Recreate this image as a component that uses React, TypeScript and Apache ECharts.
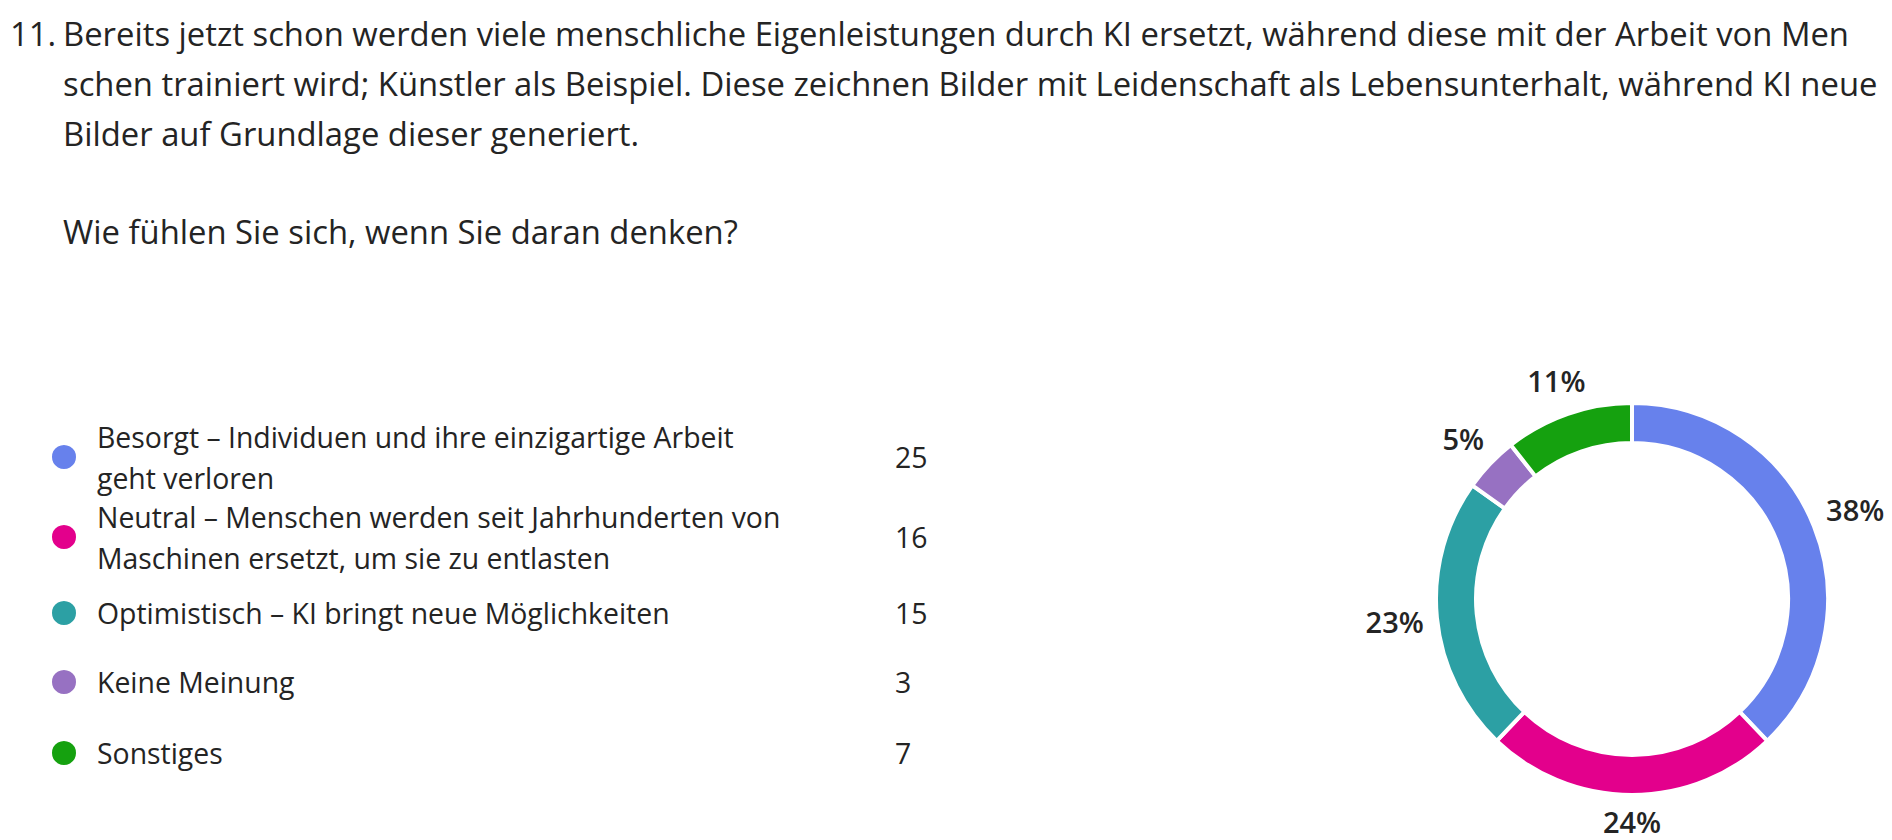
import React, { useEffect, useRef } from "react";
import * as echarts from "echarts";

// ---- data ----
const questionNumber = "11.";
const questionLines = [
  "Bereits jetzt schon werden viele menschliche Eigenleistungen durch KI ersetzt, während diese mit der Arbeit von Men",
  "schen trainiert wird; Künstler als Beispiel. Diese zeichnen Bilder mit Leidenschaft als Lebensunterhalt, während KI neue",
  "Bilder auf Grundlage dieser generiert.",
];
const questionPrompt = "Wie fühlen Sie sich, wenn Sie daran denken?";

const categories = [
  "Besorgt – Individuen und ihre einzigartige Arbeit\ngeht verloren",
  "Neutral – Menschen werden seit Jahrhunderten von\nMaschinen ersetzt, um sie zu entlasten",
  "Optimistisch – KI bringt neue Möglichkeiten",
  "Keine Meinung",
  "Sonstiges",
];
const counts = [25, 16, 15, 3, 7];
const colors = ["#6781EC", "#E3008C", "#2CA0A4", "#9771C2", "#15A10F"];

// ---- layout ----
const FONT = "'Segoe UI', 'Open Sans', sans-serif";
const TEXT = "#242424";
const rowCenters = [457, 537, 613, 682, 753];
const LINE_H = 41;
const PIE_CX = 1632;
const PIE_CY = 599;
const LABEL_GAP_R = 208;

export default function App() {
  const ref = useRef<HTMLDivElement>(null);

  useEffect(() => {
    if (!ref.current) return;
    const chart = echarts.init(ref.current, undefined, { renderer: "svg" });
    const data = categories.map((name, i) => ({
      name,
      value: counts[i],
      itemStyle: { color: colors[i] },
    }));

    const legends = categories.map((name, i) => {
      const lines = name.split("\n").length;
      return {
        data: [name],
        orient: "vertical",
        left: 50,
        top: rowCenters[i] - (lines * LINE_H) / 2,
        padding: 0,
        icon: "circle",
        itemWidth: 26,
        itemHeight: 26,
        itemGap: 0,
        selectedMode: false,
        textStyle: {
          fontFamily: FONT,
          fontSize: 28.4,
          lineHeight: LINE_H,
          color: TEXT,
          padding: [0, 0, 0, 15],
        },
      };
    });

    const countTexts = counts.map((c, i) => ({
      type: "text",
      left: 895,
      top: rowCenters[i] - 20,
      style: {
        text: String(c),
        fontFamily: FONT,
        fontSize: 28.4,
        lineHeight: 40,
        fill: TEXT,
      },
    }));

    const titleStyle = { fontFamily: FONT, fontSize: 32.8, fontWeight: "normal", color: TEXT, lineHeight: 50 };

    chart.setOption({
      animation: false,
      backgroundColor: "#ffffff",
      title: [
        { text: questionNumber, left: 10, top: 8, padding: 0, textStyle: titleStyle },
        { text: questionLines.join("\n"), left: 63, top: 8, padding: 0, textStyle: titleStyle },
        { text: questionPrompt, left: 63, top: 206, padding: 0, textStyle: titleStyle },
      ],
      legend: legends,
      graphic: countTexts,
      series: [
        {
          type: "pie",
          center: [PIE_CX, PIE_CY],
          radius: [156, 196],
          startAngle: 90,
          clockwise: true,
          silent: true,
          itemStyle: { borderColor: "#ffffff", borderWidth: 4 },
          emphasis: { disabled: true },
          labelLine: { show: false },
          label: {
            show: true,
            position: "inside",
            formatter: (p: any) => Math.round(p.percent) + "%",
            fontFamily: FONT,
            fontSize: 29,
            fontWeight: 600,
            color: TEXT,
          },
          labelLayout: (p: any) => {
            const r = p.labelRect;
            const lx = r.x + r.width / 2;
            const ly = r.y + r.height / 2;
            const vx = lx - PIE_CX;
            const vy = ly - PIE_CY;
            const len = Math.hypot(vx, vy) || 1;
            const ux = vx / len;
            const uy = vy / len;
            const d = LABEL_GAP_R + (Math.abs(ux) * r.width) / 2 + (Math.abs(uy) * r.height) / 2;
            return { x: PIE_CX + ux * d, y: PIE_CY + uy * d };
          },
          data,
        },
      ],
    });

    return () => chart.dispose();
  }, []);

  return (
    <div
      ref={ref}
      style={{ position: "absolute", left: 0, top: 0, width: 1892, height: 840, background: "#fff" }}
    />
  );
}
